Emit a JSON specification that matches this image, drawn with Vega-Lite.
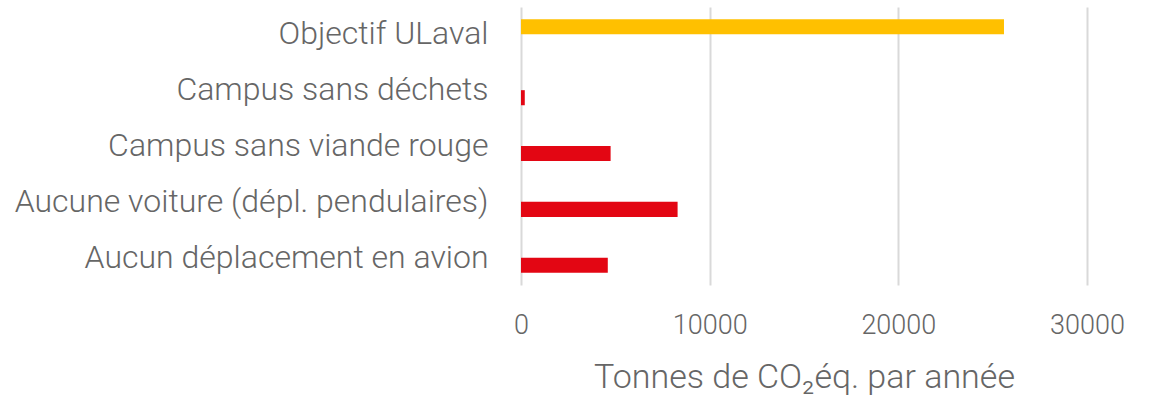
{
  "$schema": "https://vega.github.io/schema/vega-lite/v6.json",
  "autosize": {"type": "none"},
  "padding": {"left": 521, "top": 7, "right": 62, "bottom": 116},
  "width": 566,
  "height": 278,
  "background": "white",
  "config": {
    "view": {"stroke": null},
    "font": "Roboto",
    "axis": {"labelFont": "Roboto", "titleFont": "Roboto", "labelFontWeight": 300, "titleFontWeight": 300, "labelColor": "#666666", "titleColor": "#666666"}
  },
  "data": {
    "values": [
      {"categorie": "Objectif ULaval", "serie": "Objectif", "tonnes": 25600},
      {"categorie": "Campus sans déchets", "serie": "Scénario", "tonnes": 200},
      {"categorie": "Campus sans viande rouge", "serie": "Scénario", "tonnes": 4750},
      {"categorie": "Aucune voiture (dépl. pendulaires)", "serie": "Scénario", "tonnes": 8300},
      {"categorie": "Aucun déplacement en avion", "serie": "Scénario", "tonnes": 4600}
    ]
  },
  "mark": {"type": "bar"},
  "encoding": {
    "y": {
      "field": "categorie",
      "type": "nominal",
      "sort": null,
      "scale": {"paddingInner": 0.46, "paddingOuter": 0.22},
      "axis": {"title": null, "domain": false, "ticks": false, "grid": false, "labelFontSize": 32, "labelPadding": 33, "labelLimit": 600}
    },
    "yOffset": {
      "field": "serie",
      "type": "nominal",
      "scale": {"domain": ["Objectif", "Scénario"], "paddingInner": 0, "paddingOuter": 0}
    },
    "x": {
      "field": "tonnes",
      "type": "quantitative",
      "scale": {"domain": [0, 30000], "nice": false},
      "axis": {
        "title": "Tonnes de CO₂éq. par année",
        "values": [0, 10000, 20000, 30000],
        "format": "d",
        "domain": false,
        "ticks": false,
        "grid": true,
        "gridColor": "#d9d9d9",
        "gridWidth": 2,
        "labelFlush": false,
        "labelFontSize": 27,
        "labelPadding": 27,
        "titleFontSize": 34,
        "titlePadding": 22
      }
    },
    "color": {
      "field": "serie",
      "type": "nominal",
      "scale": {"domain": ["Objectif", "Scénario"], "range": ["#FFC000", "#E30613"]},
      "legend": null
    }
  }
}
